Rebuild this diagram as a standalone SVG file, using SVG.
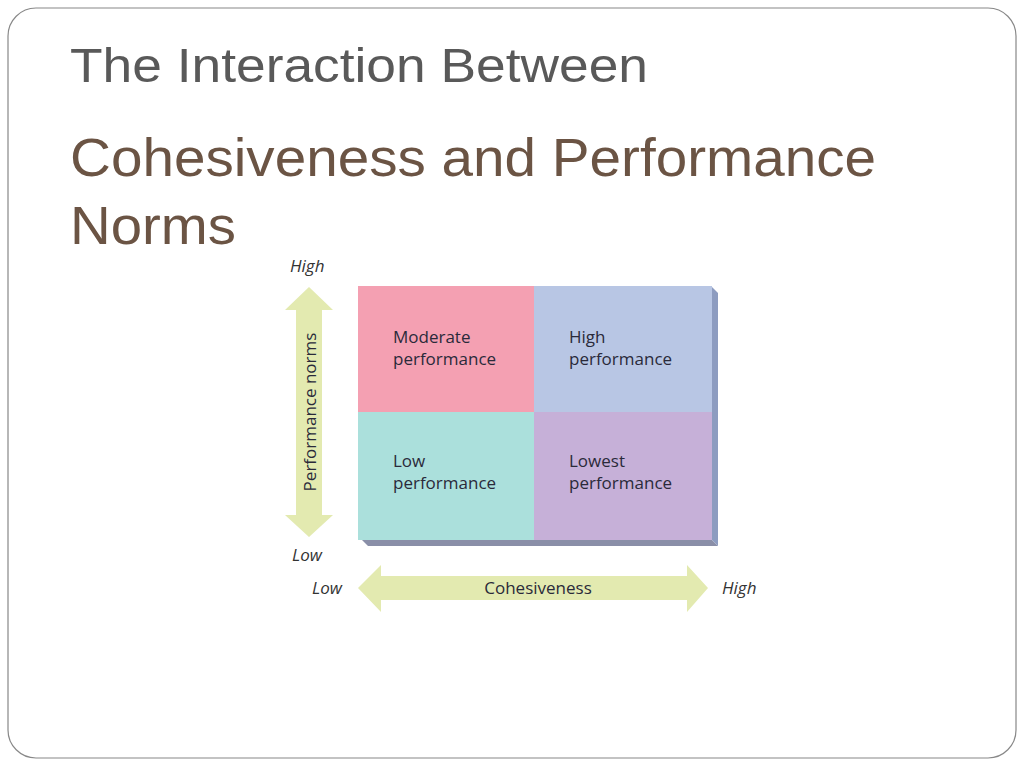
<svg xmlns="http://www.w3.org/2000/svg" width="1024" height="768" viewBox="0 0 1024 768">
<style>
.t{font-family:"Liberation Sans",Arial,sans-serif}
.q{font-family:"Open Sans","Noto Sans",sans-serif;font-size:17px;fill:#2a2a3a}
.ax{font-family:"Open Sans","Noto Sans",sans-serif;font-size:17px;font-style:italic;fill:#333}
.arr{fill:#e3eab0}
</style>
<rect width="1024" height="768" fill="#fff"/>
<rect x="8" y="8" width="1008" height="750" rx="28" fill="#fff" stroke="#888" stroke-width="1.2"/>
<text class="t" x="70" y="82" font-size="48" fill="#595959" textLength="578" lengthAdjust="spacingAndGlyphs">The Interaction Between</text>
<text class="t" x="70" y="176" font-size="54" fill="#6b5444" textLength="806" lengthAdjust="spacingAndGlyphs">Cohesiveness and Performance</text>
<text class="t" x="70" y="244" font-size="54" fill="#6b5444" textLength="166" lengthAdjust="spacingAndGlyphs">Norms</text>
<g id="grid">
<polygon points="362,540 712,540 718,546 368,546" fill="#8a8fa8"/>
<polygon points="712,287 718,293 718,546 712,540" fill="#8d9cc0"/>
</g>
<g id="moderate"><rect x="358" y="286" width="176" height="126" fill="#f4a0b2"/><text class="q" x="393" y="343">Moderate</text><text class="q" x="393" y="365">performance</text></g>
<g id="high"><rect x="534" y="286" width="178" height="126" fill="#b8c6e4"/><text class="q" x="569" y="343">High</text><text class="q" x="569" y="365">performance</text></g>
<g id="low"><rect x="358" y="412" width="176" height="128" fill="#abe0dc"/><text class="q" x="393" y="467">Low</text><text class="q" x="393" y="489">performance</text></g>
<g id="lowest"><rect x="534" y="412" width="178" height="128" fill="#c6b0d8"/><text class="q" x="569" y="467">Lowest</text><text class="q" x="569" y="489">performance</text></g>
<g id="axes">
<polygon class="arr" points="309,287 333,310 322,310 322,515 333,515 309,537 285,515 296,515 296,310 285,310"/>
<text class="q" transform="translate(316,412) rotate(-90)" text-anchor="middle" font-size="16">Performance norms</text>
<polygon class="arr" points="358,588 381,565 381,576 687,576 687,565 708,588 687,612 687,600 381,600 381,612"/>
<text class="q" x="538" y="594" text-anchor="middle">Cohesiveness</text>
<text class="ax" x="290" y="272">High</text>
<text class="ax" x="292" y="561">Low</text>
<text class="ax" x="312" y="594">Low</text>
<text class="ax" x="722" y="594">High</text>
</g>
</svg>
